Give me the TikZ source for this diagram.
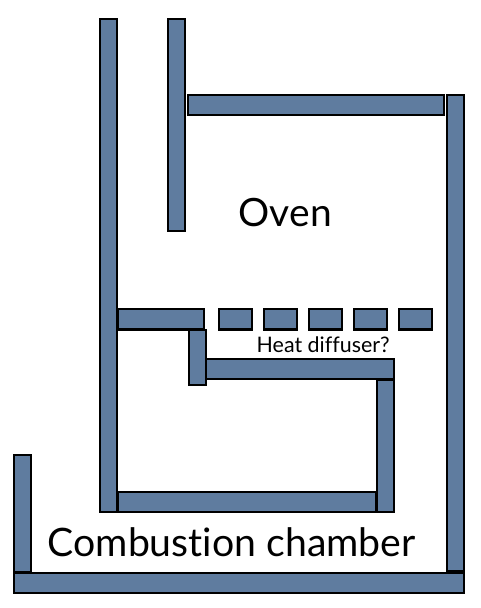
\documentclass[tikz,border=0pt]{standalone}
\usepackage{fontspec}
\setmainfont{Lato}[Ligatures=NoCommon]
\definecolor{wallblue}{HTML}{5F7C9F}
\tikzset{
  wall/.style={draw=black,fill=wallblue,line width=2.2pt,line join=miter},
  caption/.style={inner sep=0pt,anchor=base west,text=black}
}
\newcommand{\wallrect}[4]{\draw[wall] (#1+1.1,#2+1.1) rectangle (#3-1.1,#4-1.1);}
\begin{document}
\begin{tikzpicture}[x=1pt,y=-1pt]
\useasboundingbox (0,0) rectangle (480,608);
% outer and inner walls
\wallrect{99}{18}{118}{513}
\wallrect{167}{18}{186}{232}
\wallrect{187}{94}{445}{116}
\wallrect{446.2}{94}{465}{572}
\wallrect{13}{454}{32}{573}
\wallrect{13}{572}{465}{594}
% diffuser
\wallrect{117}{308}{205}{330.5}
\wallrect{218}{308}{253}{330.5}
\wallrect{263}{308}{298}{330.5}
\wallrect{308}{308}{343}{330.5}
\wallrect{353}{308}{388}{330.5}
\wallrect{398}{308}{433}{330.5}
% combustion chamber enclosure
\wallrect{205}{358}{395}{380}
\wallrect{188}{329}{207}{386}
\wallrect{376}{379}{395}{513}
\wallrect{117}{491}{377}{513}
% labels
\node[caption,font=\fontsize{39}{39}\selectfont] (oven) at (238.5,226) {Oven};
\node[caption,font=\fontsize{21.4}{21.4}\selectfont] (diffuser) at (256.5,352) {Heat diffuser?};
\node[caption,font=\fontsize{39.2}{39.2}\selectfont] (combustion) at (47.5,556) {Combustion chamber};
\end{tikzpicture}
\end{document}
